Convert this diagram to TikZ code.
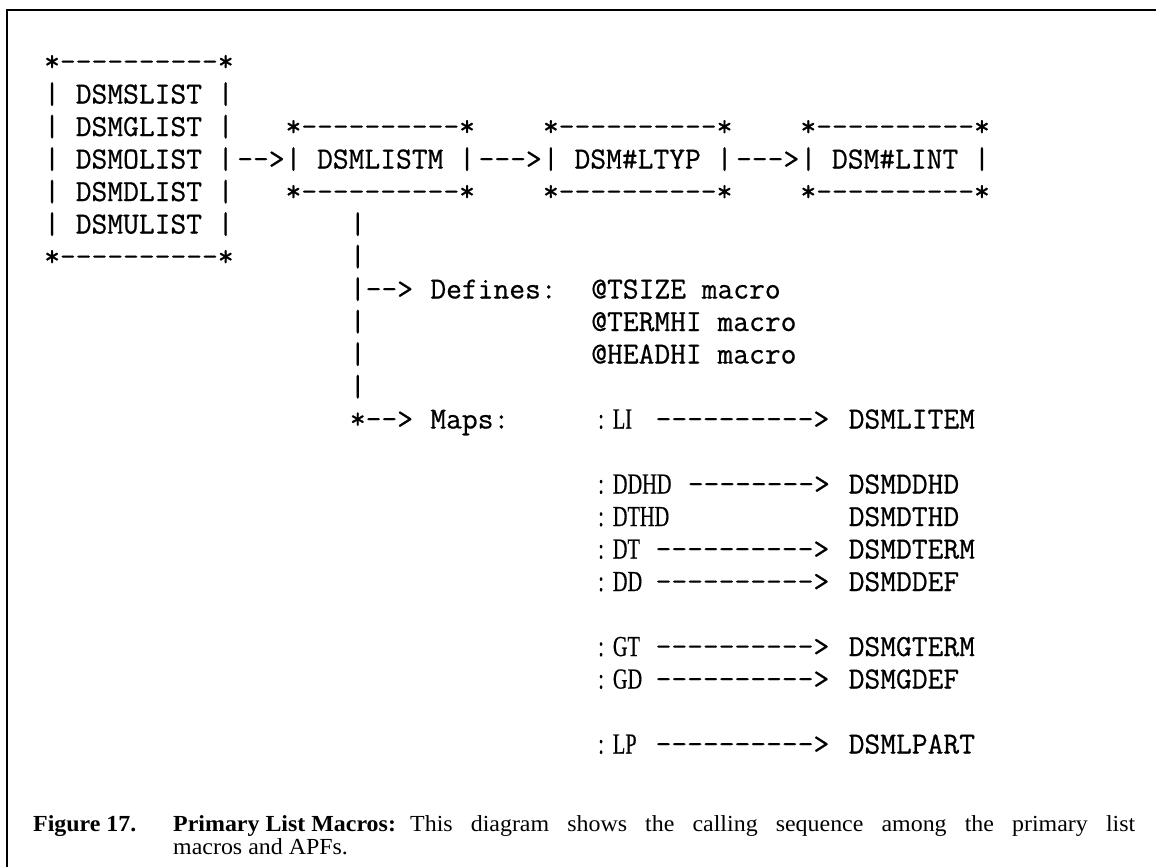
\documentclass[tikz,border=0pt]{standalone}
\usepackage{fontspec}
\setmainfont{Liberation Serif}
\setmonofont{Latin Modern Mono}[FakeBold=0.6]
\newfontfamily\capfont[FakeStretch=1.04]{Liberation Serif}
\newfontfamily\tagfont[FakeStretch=0.7,FakeBold=0.4]{Liberation Serif}
\usetikzlibrary{calc}

% grid of the typewriter text: left edge of a column, baseline of a row
\newcommand{\colx}[1]{44+16.09*#1}
\newcommand{\rowy}[1]{71+32.5*#1}

\begin{document}
\begin{tikzpicture}[x=1pt,y=-1pt,
  tt/.style={font=\fontsize{30.65}{32}\selectfont\ttfamily, inner sep=0pt, anchor=base west},
  tag/.style={font=\fontsize{29}{30}\selectfont\tagfont, inner sep=0pt, anchor=base west},
  captext/.style={font=\fontsize{23}{25}\selectfont\capfont, inner sep=0pt, anchor=base west}]
\useasboundingbox (0,0) rectangle (1156,867);
\draw[line width=2pt] (7,867) -- (7,10) -- (1156,10);

% calling box
\node[tt] (callTop) at ({\colx{0}},{\rowy{0}}) {*----------*};
\foreach \r/\name in {1/DSMSLIST,2/DSMGLIST,3/DSMOLIST,4/DSMDLIST,5/DSMULIST}
\node[tt] (\name) at ({\colx{0}},{\rowy{\r}}) {| \name\ |};
\node[tt] (callBot) at ({\colx{0}},{\rowy{6}}) {*----------*};

% chain of boxes
\foreach \c/\id/\lab in {15/listm/DSMLISTM,31/ltyp/DSM\#LTYP,47/lint/DSM\#LINT}{
\node[tt] (\id Top) at ({\colx{\c}},{\rowy{2}}) {*----------*};
\node[tt] (\id) at ({\colx{\c}},{\rowy{3}}) {| \lab\ |};
\node[tt] (\id Bot) at ({\colx{\c}},{\rowy{4}}) {*----------*};
}
\node[tt] (arrA) at ({\colx{12}},{\rowy{3}}) {-->};
\node[tt] (arrB) at ({\colx{27}},{\rowy{3}}) {--->};
\node[tt] (arrC) at ({\colx{43}},{\rowy{3}}) {--->};

% stem under DSMLISTM
\foreach \r in {5,6,8,9,10}
\node[tt] (stem\r) at ({\colx{19}},{\rowy{\r}}) {|};
\node[tt] (defArr) at ({\colx{19}},{\rowy{7}}) {|-->};
\node[tt] (defines) at ({\colx{24}},{\rowy{7}}) {Defines:};
\node[tt] (mapArr) at ({\colx{19}},{\rowy{11}}) {*-->};
\node[tt] (maps) at ({\colx{24}},{\rowy{11}}) {Maps:};

% defined macros
\foreach \r/\m in {7/TSIZE,8/TERMHI,9/HEADHI}
\node[tt] (mac\m) at ({\colx{34}},{\rowy{\r}}) {@\m\ macro};

% mapped tags
\foreach \r/\t/\c/\d/\apf in {11/LI/38/----------/DSMLITEM,13/DDHD/40/--------/DSMDDHD,
  15/DT/38/----------/DSMDTERM,16/DD/38/----------/DSMDDEF,18/GT/38/----------/DSMGTERM,
  19/GD/38/----------/DSMGDEF,21/LP/38/----------/DSMLPART}{
\node[tag] (tag\t) at ({\colx{34}+7},{\rowy{\r}}) {:\hspace{9pt}\t};
\node[tt] (dash\t) at ({\colx{\c}},{\rowy{\r}}) {\d>};
\node[tt] (\apf) at ({\colx{50}},{\rowy{\r}}) {\apf};
}
\node[tag] (tagDTHD) at ({\colx{34}+7},{\rowy{14}}) {:\hspace{9pt}DTHD};
\node[tt] (DSMDTHD) at ({\colx{50}},{\rowy{14}}) {DSMDTHD};

% caption
\node[captext] (figNum) at (33,831) {\bfseries Figure 17.};
\node[captext] (capTitle) at (173,831) {\bfseries Primary List Macros:};
\node[captext] (capA) at (410,831) {\makebox[725pt][s]{This diagram shows the calling sequence among the primary list}};
\node[captext] (capB) at (173,854) {macros and APFs.};
\end{tikzpicture}
\end{document}
